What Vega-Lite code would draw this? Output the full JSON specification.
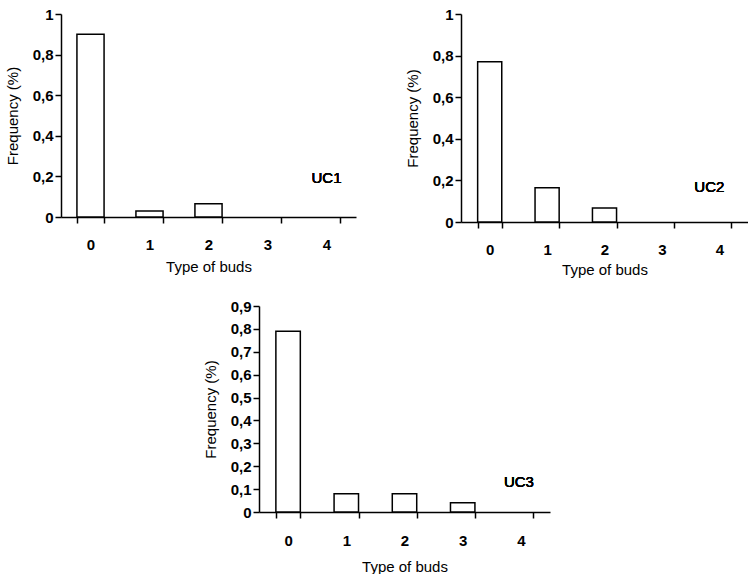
{
  "$schema": "https://vega.github.io/schema/vega-lite/v6.json",
  "padding": {"left": 5, "top": 7, "right": 0, "bottom": 0},
  "background": "white",
  "datasets": {
    "uc1": [
      {"type": "0", "freq": 0.9},
      {"type": "1", "freq": 0.03},
      {"type": "2", "freq": 0.065},
      {"type": "3", "freq": 0},
      {"type": "4", "freq": 0}
    ],
    "uc2": [
      {"type": "0", "freq": 0.77},
      {"type": "1", "freq": 0.165},
      {"type": "2", "freq": 0.067},
      {"type": "3", "freq": 0},
      {"type": "4", "freq": 0}
    ],
    "uc3": [
      {"type": "0", "freq": 0.79},
      {"type": "1", "freq": 0.08},
      {"type": "2", "freq": 0.08},
      {"type": "3", "freq": 0.04},
      {"type": "4", "freq": 0}
    ]
  },
  "vconcat": [
    {
      "hconcat": [
        {
          "width": 295,
          "height": 203,
          "data": {"name": "uc1"},
          "encoding": {
            "x": {"field": "type", "type": "ordinal", "scale": {"paddingInner": 0.54, "paddingOuter": 0.27},
              "axis": {"title": "Type of buds", "labelAngle": 0, "tickBand": "extent", "labelPadding": 14, "titlePadding": 7}},
            "y": {"field": "freq", "type": "quantitative", "scale": {"domain": [0, 1]},
              "axis": {"title": "Frequency (%)", "values": [0, 0.2, 0.4, 0.6, 0.8, 1], "labelOverlap": false, "labelExpr": "replace(format(datum.value,'~g'),'.',',')"}}
          },
          "layer": [
            {
              "mark": {"type": "bar", "fill": "white", "stroke": "black", "strokeWidth": 1.5},
              "encoding": {
                "opacity": {"condition": {"test": "datum.freq > 0", "value": 1}, "value": 0}
              }
            },
            {
              "mark": {"type": "text", "fontSize": 15, "font": "Liberation Sans", "fontWeight": "normal", "color": "black", "dx": 0},
              "encoding": {"x": {"datum": "4", "type": "ordinal"}, "y": {"datum": 0.19, "type": "quantitative"}, "text": {"value": "UC1"}}
            }
          ]
        },
        {
          "width": 287,
          "height": 208,
          "data": {"name": "uc2"},
          "encoding": {
            "x": {"field": "type", "type": "ordinal", "scale": {"paddingInner": 0.58, "paddingOuter": 0.29},
              "axis": {"title": "Type of buds", "labelAngle": 0, "tickBand": "extent", "labelPadding": 14, "titlePadding": 5}},
            "y": {"field": "freq", "type": "quantitative", "scale": {"domain": [0, 1]},
              "axis": {"title": "Frequency (%)", "values": [0, 0.2, 0.4, 0.6, 0.8, 1], "labelOverlap": false, "labelExpr": "replace(format(datum.value,'~g'),'.',',')"}}
          },
          "layer": [
            {
              "mark": {"type": "bar", "fill": "white", "stroke": "black", "strokeWidth": 1.5},
              "encoding": {
                "opacity": {"condition": {"test": "datum.freq > 0", "value": 1}, "value": 0}
              }
            },
            {
              "mark": {"type": "text", "fontSize": 15, "font": "Liberation Sans", "fontWeight": "normal", "color": "black", "dx": -10},
              "encoding": {"x": {"datum": "4", "type": "ordinal"}, "y": {"datum": 0.17, "type": "quantitative"}, "text": {"value": "UC2"}}
            }
          ]
        }
      ]
    },
    {
      "width": 291,
      "height": 206,
      "data": {"name": "uc3"},
      "encoding": {
        "x": {"field": "type", "type": "ordinal", "scale": {"paddingInner": 0.58, "paddingOuter": 0.29},
          "axis": {"title": "Type of buds", "labelAngle": 0, "tickBand": "extent", "labelPadding": 15, "titlePadding": 11}},
        "y": {"field": "freq", "type": "quantitative", "scale": {"domain": [0, 0.9]},
          "axis": {"title": "Frequency (%)", "values": [0, 0.1, 0.2, 0.3, 0.4, 0.5, 0.6, 0.7, 0.8, 0.9], "labelOverlap": false, "labelExpr": "replace(format(datum.value,'~g'),'.',',')"}}
      },
      "layer": [
        {
          "mark": {"type": "bar", "fill": "white", "stroke": "black", "strokeWidth": 1.5},
          "encoding": {
            "opacity": {"condition": {"test": "datum.freq > 0", "value": 1}, "value": 0}
          }
        },
        {
          "mark": {"type": "text", "fontSize": 15, "font": "Liberation Sans", "fontWeight": "normal", "color": "black", "dx": -2},
          "encoding": {"x": {"datum": "4", "type": "ordinal"}, "y": {"datum": 0.13, "type": "quantitative"}, "text": {"value": "UC3"}}
        }
      ]
    }
  ],
  "center": true,
  "spacing": 22,
  "config": {
    "font": "Liberation Sans",
    "view": {"stroke": null},
    "concat": {"spacing": 49},
    "axis": {
      "grid": false,
      "domainColor": "black",
      "domainWidth": 1.5,
      "tickColor": "black",
      "tickWidth": 1.5,
      "tickSize": 6,
      "labelColor": "black",
      "labelFont": "Liberation Sans",
      "labelFontSize": 15,
      "labelFontWeight": "bold",
      "titleColor": "black",
      "titleFont": "Liberation Sans",
      "titleFontSize": 15,
      "titleFontWeight": "normal"
    },
    "axisY": {"labelPadding": 2, "titlePadding": 12}
  }
}
